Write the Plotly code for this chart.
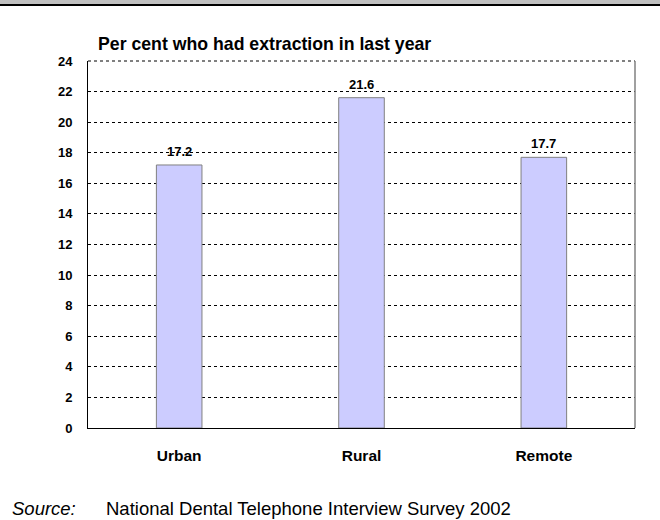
import plotly.graph_objects as go

categories = ["Urban", "Rural", "Remote"]
values = [17.2, 21.6, 17.7]
y_ticks = list(range(0, 25, 2))

FONT = "Liberation Sans, Arial, sans-serif"

fig = go.Figure()
fig.add_trace(go.Bar(
    x=categories, y=values,
    marker=dict(color="#CCCCFF", line=dict(color="#808080", width=1)),
    width=0.25,
))
for c, v in zip(categories, values):
    fig.add_annotation(x=c, y=v, text=f"<b>{v:.1f}</b>", showarrow=False,
                       yanchor="bottom", yshift=4,
                       font=dict(family=FONT, size=13, color="black"))

fig.update_layout(
    width=660, height=520,
    margin=dict(l=88, r=25, t=61, b=92),
    paper_bgcolor="white", plot_bgcolor="white",
    showlegend=False,
    font=dict(family=FONT, color="black"),
)
fig.update_xaxes(
    range=[-0.5, 2.5],
    showline=True, linecolor="black", linewidth=1,
    showgrid=False, ticks="",
    tickfont=dict(family=FONT, size=15.5, color="black", weight="bold"),
    ticklabelstandoff=13,
)
fig.update_yaxes(
    range=[0, 24], tickvals=y_ticks,
    showline=True, linecolor="black", linewidth=1,
    showgrid=True, gridcolor="black", gridwidth=1, griddash="dot",
    zeroline=False, ticks="",
    tickfont=dict(family=FONT, size=13, color="black", weight="bold"),
    ticklabelstandoff=12,
)
# top (dotted) and right (grey) borders of plot area
fig.add_shape(type="line", xref="paper", yref="paper", x0=0, x1=1, y0=1, y1=1,
              line=dict(color="black", width=1, dash="dot"))
fig.add_shape(type="line", xref="paper", yref="paper", x0=1, x1=1, y0=0, y1=1,
              line=dict(color="#808080", width=1.5))
# top frame band
fig.add_shape(type="rect", xref="paper", yref="paper", x0=-0.2, x1=1.1,
              y0=1 + 57/367, y1=1 + 62/367, line=dict(width=0), fillcolor="#C0C0C0")
fig.add_shape(type="rect", xref="paper", yref="paper", x0=-0.2, x1=1.1,
              y0=1 + 55/367, y1=1 + 57/367, line=dict(width=0), fillcolor="black")

fig.add_annotation(text="<b>Per cent who had extraction in last year</b>",
                   xref="paper", yref="paper", x=(96 - 88) / 547, y=1 + (61 - 44) / 367,
                   xanchor="left", yanchor="middle", showarrow=False,
                   font=dict(family=FONT, size=17.7, color="black"))
fig.add_annotation(text="<i>Source:</i>",
                   xref="paper", yref="paper", x=(10 - 88) / 547, y=-(508 - 428) / 367,
                   xanchor="left", yanchor="middle", showarrow=False,
                   font=dict(family=FONT, size=18.5, color="black"))
fig.add_annotation(text="National Dental Telephone Interview Survey 2002",
                   xref="paper", yref="paper", x=(104 - 88) / 547, y=-(508 - 428) / 367,
                   xanchor="left", yanchor="middle", showarrow=False,
                   font=dict(family=FONT, size=18.5, color="black"))

fig.write_html("out.html", config={"displayModeBar": False},
               post_script="document.body.style.margin='0';")
